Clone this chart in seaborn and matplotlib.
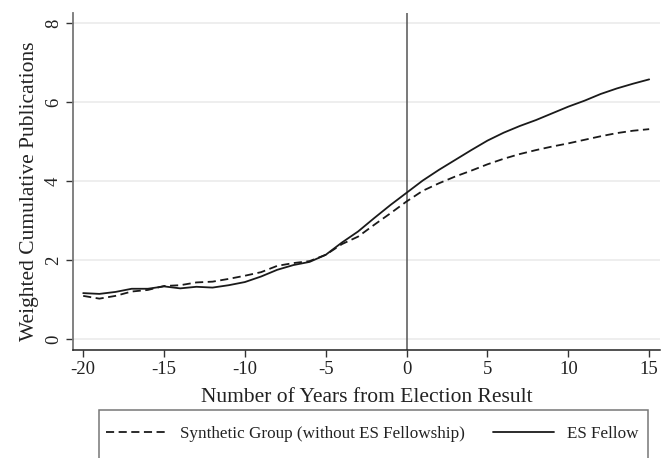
import matplotlib
matplotlib.use("Agg")
import matplotlib.pyplot as plt
import seaborn as sns
import pandas as pd
from matplotlib.patches import Rectangle
from matplotlib.lines import Line2D

years = list(range(-20, 16))
es_fellow = [1.16, 1.14, 1.19, 1.27, 1.27, 1.33, 1.28, 1.32, 1.30, 1.36, 1.44, 1.58,
             1.75, 1.87, 1.95, 2.13, 2.44, 2.72, 3.06, 3.39, 3.70, 4.01, 4.28, 4.53,
             4.78, 5.02, 5.22, 5.39, 5.54, 5.71, 5.88, 6.03, 6.20, 6.34, 6.46, 6.57]
synthetic = [1.09, 1.02, 1.09, 1.20, 1.24, 1.34, 1.36, 1.43, 1.45, 1.52, 1.60, 1.69,
             1.85, 1.92, 1.97, 2.13, 2.40, 2.59, 2.89, 3.18, 3.48, 3.75, 3.94, 4.11,
             4.26, 4.42, 4.56, 4.68, 4.78, 4.87, 4.95, 5.04, 5.13, 5.21, 5.27, 5.31]
series_names = ["Synthetic Group (without ES Fellowship)", "ES Fellow"]
x_ticks = [-20, -15, -10, -5, 0, 5, 10, 15]
y_ticks = [0, 2, 4, 6, 8]

df = pd.concat([
    pd.DataFrame({"year": years, "value": synthetic, "group": series_names[0]}),
    pd.DataFrame({"year": years, "value": es_fellow, "group": series_names[1]}),
])

sns.set_style("white")
plt.rcParams["font.family"] = ["Liberation Serif", "DejaVu Serif"]

fig = plt.figure(figsize=(6.72, 4.58), dpi=100)
ax = fig.add_axes([73 / 672, 1 - 350 / 458, (660 - 73) / 672, (350 - 13) / 458])

for yv in y_ticks:
    ax.axhline(yv, color="#eaeaea", lw=1.1, zorder=0)
ax.axvline(0, color="#555555", lw=1.1, zorder=1)

sns.lineplot(data=df, x="year", y="value", style="group",
             dashes={series_names[0]: (4.5, 2.5), series_names[1]: ""},
             color="#1a1a1a", lw=1.3, legend=False, ax=ax, zorder=3)

ax.set_xlim(-20.63, 15.67)
ax.set_ylim(-0.28, 8.25)
ax.set_xticks(x_ticks)
ax.set_xticklabels([str(t) for t in x_ticks])
ax.set_yticks(y_ticks)
ax.set_yticklabels([str(t) for t in y_ticks], rotation=90, va="center")
ax.tick_params(axis="both", direction="out", length=5, width=1, color="#333333",
               labelsize=13.5, labelcolor="#222222", left=True, bottom=True, pad=3)
for s in ["top", "right"]:
    ax.spines[s].set_visible(False)
ax.spines["left"].set_color("#777777")
ax.spines["left"].set_linewidth(1.3)
ax.spines["bottom"].set_color("#222222")
ax.spines["bottom"].set_linewidth(1.1)

ax.set_xlabel("Number of Years from Election Result", fontsize=15.5, color="#222222", labelpad=7)
ax.set_ylabel("Weighted Cumulative Publications", fontsize=15.5, color="#222222", labelpad=4)
ax.yaxis.label.set_y(0.472)

# legend box
fig.patches.append(Rectangle((99 / 672, -0.1), (648 - 99) / 672, 0.1 + (458 - 410) / 458,
                             transform=fig.transFigure, fill=False, edgecolor="#777777",
                             lw=1.1, zorder=0))
handles = [Line2D([], [], color="#1a1a1a", lw=1.3, dashes=(4.5, 2.5)),
           Line2D([], [], color="#1a1a1a", lw=1.3)]
fig.legend(handles, series_names, loc="center left",
           bbox_to_anchor=(106 / 672, (458 - 434) / 458), ncol=2, frameon=False,
           borderpad=0, borderaxespad=0,
           fontsize=12.3, handlelength=3.6, handletextpad=0.76, columnspacing=1.6,
           labelcolor="#222222")

fig.savefig("out.png", dpi=100)
